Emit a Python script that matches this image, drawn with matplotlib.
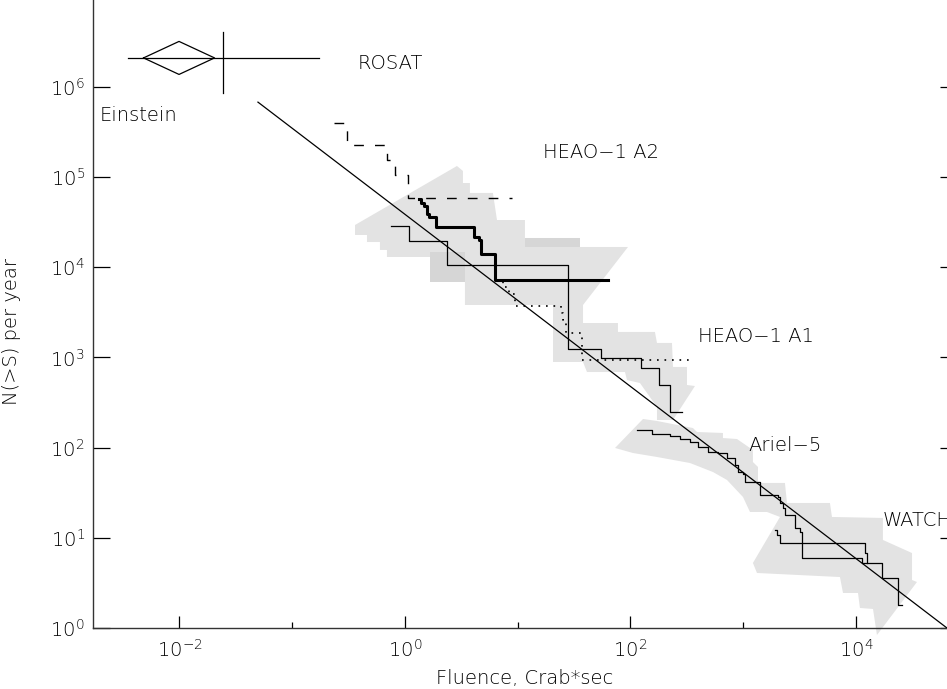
import numpy as np
import matplotlib
matplotlib.use('Agg')
import matplotlib.pyplot as plt
from matplotlib.ticker import FixedLocator, FuncFormatter, NullLocator, NullFormatter

plt.rcParams['font.family'] = ['DejaVu Sans']
plt.rcParams['font.weight'] = 'light'
plt.rcParams['mathtext.default'] = 'regular'

# ---------------- data (log10 units) ----------------
# ROSAT point (cross)
rosat_x = -1.614
rosat_x_span = [-2.457, -0.763]
rosat_y = 6.32
rosat_y_span = [5.931, 6.608]

# Einstein point (diamond)
einstein_x = -2.004
einstein_dx = 0.315
einstein_y = 6.32
einstein_dy = 0.183

# power-law reference line
fit_x = [-1.304, 4.807]
fit_y = [5.83, 0.0]

# HEAO-1 A2 dashed step curve
a2_dash_x = [-0.630, -0.514, -0.160, -0.124, -0.089, 0.027, 0.949]
a2_dash_y = [5.599, 5.355, 5.188, 5.122, 5.022, 4.767, 4.767]

# HEAO-1 A2 thick step curve
a2_thick_x = [0.124, 0.142, 0.169, 0.195, 0.213, 0.275, 0.612, 0.656, 0.674, 0.798, 1.800]
a2_thick_y = [4.756, 4.712, 4.678, 4.590, 4.557, 4.446, 4.335, 4.302, 4.146, 3.858, 3.858]

# HEAO-1 A1 thin step curve
a1_x = [-0.124, 0.035, 0.373, 1.446, 1.738, 2.093, 2.253, 2.350, 2.457]
a1_y = [4.457, 4.290, 4.024, 3.093, 2.993, 2.882, 2.694, 2.395, 2.395]

# dotted step curve
dot_x = [0.807, 0.869, 0.922, 0.976, 1.384, 1.401, 1.428, 1.570, 2.528]
dot_y = [3.847, 3.780, 3.703, 3.570, 3.492, 3.415, 3.271, 2.971, 2.971]

# Ariel-5 / WATCH step curve
ariel_x = [2.058, 2.191, 2.350, 2.439, 2.528, 2.599, 2.687, 2.776, 2.856, 2.927, 2.953,
           2.998, 3.016, 3.149, 3.308, 3.326, 3.353, 3.370, 3.459, 3.503, 3.521, 4.053,
           4.231, 4.373, 4.408]
ariel_y = [2.195, 2.151, 2.129, 2.095, 2.062, 2.007, 1.951, 1.940, 1.885, 1.807, 1.729,
           1.707, 1.619, 1.475, 1.452, 1.386, 1.330, 1.253, 1.109, 1.064, 0.776, 0.721,
           0.554, 0.255, 0.255]

# WATCH second step curve
watch_x = [3.282, 3.299, 3.326, 4.080, 4.098]
watch_y = [1.086, 1.031, 0.942, 0.831, 0.721]

# shaded uncertainty bands (outline vertices)
band_a2_x = [-0.443, 0.461, 0.514, 0.514, 0.576, 0.576, 0.780, 0.816, 1.064, 1.064, 1.552,
             1.552, 1.978, 1.579, 0.532, 0.532, 0.222, 0.222, -0.160, -0.160, -0.222,
             -0.222, -0.337, -0.337, -0.443]
band_a2_y = [4.468, 5.122, 5.067, 4.933, 4.933, 4.823, 4.823, 4.523, 4.523, 4.324, 4.324,
             4.224, 4.224, 3.581, 3.581, 3.836, 3.836, 4.113, 4.113, 4.191, 4.191, 4.279,
             4.279, 4.357, 4.357]

band_a1_x = [1.313, 1.579, 1.579, 1.889, 1.889, 2.217, 2.235, 2.368, 2.377, 2.501, 2.501,
             2.572, 2.377, 2.235, 2.235, 2.084, 1.969, 1.951, 1.614, 1.579, 1.313]
band_a1_y = [3.581, 3.581, 3.381, 3.381, 3.282, 3.282, 3.160, 3.160, 2.894, 2.894, 2.694,
             2.683, 2.306, 2.306, 2.450, 2.716, 2.749, 2.838, 2.838, 2.949, 2.949]

band_ariel_x = [1.863, 2.111, 2.235, 2.554, 2.590, 2.820, 2.820, 2.945, 3.086, 3.086, 3.131,
                3.131, 3.370, 3.388, 3.769, 3.787, 4.239, 4.239, 4.497, 4.497, 4.541, 4.186,
                4.151, 4.035, 4.018, 3.885, 3.858, 3.122, 3.086, 3.326, 3.211, 3.060, 2.998,
                2.856, 2.732, 2.528, 2.235, 2.022]
band_ariel_y = [1.996, 2.317, 2.295, 2.217, 2.173, 2.162, 2.106, 2.095, 1.973, 1.840, 1.785,
                1.608, 1.608, 1.386, 1.386, 1.231, 1.220, 0.976, 0.831, 0.532, 0.510, -0.078,
                0.211, 0.222, 0.388, 0.388, 0.565, 0.610, 0.721, 1.231, 1.286, 1.286, 1.452,
                1.641, 1.729, 1.829, 1.896, 1.940]

# overlap patches of bands (darker)
overlap1_x = [0.222, 0.532, 0.532, 0.222]
overlap1_y = [4.169, 4.169, 3.836, 3.836]
overlap2_x = [1.064, 1.552, 1.552, 1.064]
overlap2_y = [4.324, 4.324, 4.224, 4.224]

# labels
labels = ['ROSAT', 'Einstein', 'HEAO\u22121 A2', 'HEAO\u22121 A1', 'Ariel\u22125', 'WATCH']
label_x = [-0.417, -2.705, 1.224, 2.599, 3.042, 4.239]
label_y = [6.253, 5.687, 5.277, 3.237, 2.018, 1.197]

x_lim = [-2.767, 4.896]
y_lim = [0.0, 7.073]
x_major = [-2, 0, 2, 4]
x_minor = [-1, 1, 3]
y_major = [0, 1, 2, 3, 4, 5, 6]

# ---------------- figure ----------------
P = lambda a: 10 ** np.asarray(a, dtype=float)

fig = plt.figure(figsize=(9.47, 6.89), dpi=100)
ax = fig.add_axes([93 / 947, 61 / 689, 864 / 947, 638 / 689])
ax.set_xscale('log')
ax.set_yscale('log')
ax.set_xlim(P(x_lim))
ax.set_ylim(P(y_lim))

light = '#e3e3e3'
dark = '#d6d6d6'
ax.fill(P(band_a2_x), P(band_a2_y), color=light, lw=0, zorder=1)
ax.fill(P(band_a1_x), P(band_a1_y), color=light, lw=0, zorder=1)
ax.fill(P(band_ariel_x), P(band_ariel_y), color=light, lw=0, zorder=1, clip_on=False)
ax.fill(P(overlap1_x), P(overlap1_y), color=dark, lw=0, zorder=1.5)
ax.fill(P(overlap2_x), P(overlap2_y), color=dark, lw=0, zorder=1.5)

lc = 'black'
ax.plot(P(fit_x), P(fit_y), color=lc, lw=0.9, zorder=3)
ax.step(P(a2_dash_x), P(a2_dash_y), where='post', color=lc, lw=1.0,
        linestyle=(0, (7, 8)), zorder=3)
ax.step(P(a2_thick_x), P(a2_thick_y), where='post', color=lc, lw=2.2, zorder=3)
ax.step(P(a1_x), P(a1_y), where='post', color=lc, lw=0.9, zorder=3)
ax.step(P(dot_x), P(dot_y), where='post', color=lc, lw=1.2,
        linestyle=(0, (1, 3.5)), zorder=3)
ax.step(P(ariel_x), P(ariel_y), where='post', color=lc, lw=0.9, zorder=3)
ax.step(P(watch_x), P(watch_y), where='post', color=lc, lw=0.9, zorder=3)

# ROSAT cross
ax.plot(P(rosat_x_span), P([rosat_y, rosat_y]), color=lc, lw=0.9, zorder=3)
ax.plot(P([rosat_x, rosat_x]), P(rosat_y_span), color=lc, lw=0.9, zorder=3)
# Einstein diamond
dx = [einstein_x - einstein_dx, einstein_x, einstein_x + einstein_dx, einstein_x,
      einstein_x - einstein_dx]
dy = [einstein_y, einstein_y + einstein_dy, einstein_y, einstein_y - einstein_dy,
      einstein_y]
ax.plot(P(dx), P(dy), color=lc, lw=0.9, zorder=3)

tc = 'black'
for t, lx, ly in zip(labels, label_x, label_y):
    ax.text(10 ** lx, 10 ** ly, t, ha='left', va='center', fontsize=14, color=tc, zorder=4)

fmt = FuncFormatter(lambda v, p: r'$\mathregular{10^{%d}}$' % int(round(np.log10(v))))
ax.xaxis.set_major_locator(FixedLocator(P(x_major)))
ax.xaxis.set_minor_locator(FixedLocator(P(x_minor)))
ax.xaxis.set_minor_formatter(NullFormatter())
ax.yaxis.set_major_locator(FixedLocator(P(y_major)))
ax.yaxis.set_minor_locator(NullLocator())
ax.yaxis.set_minor_formatter(NullFormatter())
ax.xaxis.set_major_formatter(fmt)
ax.yaxis.set_major_formatter(fmt)
ax.tick_params(axis='x', which='major', direction='in', length=8.6, width=0.9,
               labelsize=14, pad=8, colors=tc, top=False)
ax.tick_params(axis='x', which='minor', direction='in', length=4.3, width=0.9, top=False)
ax.tick_params(axis='y', which='major', direction='in', length=12.2, width=0.9,
               labelsize=14, pad=6, colors=tc, right=True)
for s in ax.spines.values():
    s.set_linewidth(1.0)
    s.set_color('#333333')

ax.text(0.5, (628 - 678) / 638, 'Fluence, Crab*sec', transform=ax.transAxes,
        ha='center', va='center', fontsize=14, color=tc)
ax.text((12 - 93) / 864, (628 - 332) / 638, 'N(>S) per year', transform=ax.transAxes,
        ha='center', va='center', rotation=90, fontsize=14, color=tc)

fig.savefig('out.png', dpi=100)
